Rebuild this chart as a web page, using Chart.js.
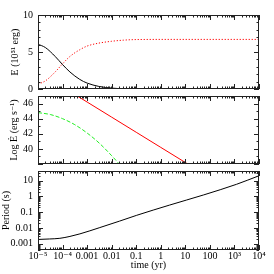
<!DOCTYPE html>
<html>
<head>
<meta charset="utf-8">
<script src="https://cdn.jsdelivr.net/npm/chart.js@4"></script>
<style>
  html, body { margin: 0; padding: 0; background: #fff; }
  #wrap { position: relative; width: 274px; height: 274px; overflow: hidden; }
  canvas { position: absolute; left: 0; }
</style>
</head>
<body>
<div id="wrap">
  <canvas id="energy" width="274" height="100" style="top:0px"></canvas>
  <canvas id="lum" width="274" height="90" style="top:85px"></canvas>
  <canvas id="period" width="274" height="114" style="top:160px"></canvas>
</div>
<script>
// time axis (yr)
const X_MIN = 1e-5, X_MAX = 1e4
const xTickValues = [1e-5, 1e-4, 1e-3, 1e-2, 1e-1, 1, 10, 100, 1e3, 1e4]
const xTickLabels = ['10\u207B\u2075', '10\u207B\u2074', '0.001', '0.01', '0.1', '1', '10', '100', '10\u00B3', '10\u2074']

// top panel: rotational energy (black) and deposited energy (red dotted)
const rotTime = [1e-5, 2e-5, 5e-5, 1e-4, 2e-4, 5e-4, 1e-3, 3e-3, 1e-2, 3e-2, 0.1, 1, 1e4]
const rotEnergy = [6.05, 5.6, 4.4, 3.3, 2.3, 1.3, 0.8, 0.35, 0.12, 0.04, 0.01, 0, 0]
const depTime = [1e-5, 2e-5, 5e-5, 1e-4, 2e-4, 5e-4, 1e-3, 3e-3, 1e-2, 3e-2, 0.1, 1, 1e4]
const depEnergy = [0.65, 1.1, 2.3, 3.4, 4.4, 5.3, 5.8, 6.2, 6.45, 6.6, 6.68, 6.7, 6.7]
const eTicks = [0, 5, 10]

// middle panel: log luminosity
const sdTime = [1e-4, 1e-3, 1e-2, 0.1, 1, 10, 100]
const sdLogL = [48.2, 46.2, 44.2, 42.2, 40.2, 38.2, 36.2]
const gTime = [1e-5, 3.16e-5, 1e-4, 3.16e-4, 1e-3, 3.16e-3, 1e-2, 1.78e-2, 2.5e-2]
const gLogL = [44.8, 44.55, 44.0, 43.2, 42.1, 40.75, 39.1, 38.2, 37.6]
const lTicks = [40, 42, 44, 46]

// bottom panel: spin period (s)
const pTime = [1e-5, 3e-5, 7.8e-5, 2e-4, 5.1e-4, 3.3e-3, 2.1e-2, 0.105, 2.3, 56, 1230, 1e4]
const period = [0.00186, 0.002, 0.0022, 0.0029, 0.0042, 0.0105, 0.027, 0.063, 0.28, 1.23, 5.8, 20]
const pTicks = [0.001, 0.01, 0.1, 1, 10]
const pTickLabels = ['0.001', '0.01', '0.1', '1', '10']

Chart.defaults.font.family = "'Liberation Serif', 'DejaVu Serif', serif"
Chart.defaults.font.size = 10
Chart.defaults.color = '#000'

const AXIS_W = 38

function points(xs, ys) {
    return xs.map((x, i) => ({ x: x, y: ys[i] }))
}

function tickMarks(scale, majorStep) {
    const out = []
    if (scale.type === 'logarithmic') {
        const lo = Math.floor(Math.log10(scale.min)), hi = Math.ceil(Math.log10(scale.max))
        for (let e = lo; e <= hi; e++) {
            for (let k = 1; k < 10; k++) {
                const v = k * Math.pow(10, e)
                if (v >= scale.min * 0.999 && v <= scale.max * 1.001) out.push({ v: v, major: k === 1 })
            }
        }
    } else {
        for (let v = Math.ceil(scale.min); v <= scale.max; v += 1) {
            out.push({ v: v, major: v % majorStep === 0 })
        }
    }
    return out
}

// pgplot-like frame with inward ticks on every side
const boxTicks = {
    id: 'boxTicks',
    afterDatasetsDraw(chart, args, opts) {
        const { ctx, chartArea: a } = chart
        const xs = chart.scales.x, ys = chart.scales.y
        ctx.save()
        ctx.strokeStyle = '#222'
        ctx.lineWidth = 1
        ctx.beginPath()
        tickMarks(xs, 1).forEach(t => {
            const p = Math.round(xs.getPixelForValue(t.v)) + 0.5
            const len = t.major ? 5 : 2.5
            ctx.moveTo(p, a.top); ctx.lineTo(p, a.top + len)
            ctx.moveTo(p, a.bottom); ctx.lineTo(p, a.bottom - len)
        })
        tickMarks(ys, opts.yMajor || 1).forEach(t => {
            const p = Math.round(ys.getPixelForValue(t.v)) + 0.5
            const len = t.major ? 5 : 2.5
            ctx.moveTo(a.left, p); ctx.lineTo(a.left + len, p)
            ctx.moveTo(a.right, p); ctx.lineTo(a.right - len, p)
        })
        ctx.stroke()
        ctx.strokeRect(Math.round(a.left) + 0.5, Math.round(a.top) + 0.5,
            Math.round(a.right - a.left) - 1, Math.round(a.bottom - a.top) - 1)
        ctx.restore()
    }
}

function xScale(showLabels) {
    return {
        type: 'logarithmic',
        min: X_MIN,
        max: X_MAX,
        display: showLabels,
        grid: { display: false, drawTicks: false },
        border: { display: false },
        afterBuildTicks: scale => { scale.ticks = xTickValues.map(v => ({ value: v })) },
        afterFit: scale => { scale.height = showLabels ? 24 : 0 },
        ticks: {
            autoSkip: false,
            maxRotation: 0,
            padding: 1,
            font: { size: 10, lineHeight: 1 },
            callback: (value, index) => xTickLabels[index]
        },
        title: {
            display: true,
            text: 'time (yr)',
            font: { size: 10, lineHeight: 1.2 },
            padding: { top: 0, bottom: 3 }
        }
    }
}

function yTitle(text, pad) {
    return {
        display: true,
        text: text,
        font: { size: 10, lineHeight: 1.2 },
        padding: { top: pad, bottom: 0 }
    }
}

function createPanel(canvas, datasets, yOpts, pad, showX, yMajor) {
    const config = {
        type: 'line',
        data: { datasets: datasets },
        options: {
            responsive: false,
            animation: false,
            events: [],
            layout: { padding: pad },
            plugins: {
                legend: { display: false },
                tooltip: { enabled: false },
                boxTicks: { yMajor: yMajor }
            },
            elements: { point: { radius: 0 } },
            scales: {
                x: xScale(showX),
                y: Object.assign({
                    grid: { display: false, drawTicks: false },
                    border: { display: false },
                    afterFit: scale => { scale.width = AXIS_W }
                }, yOpts)
            }
        },
        plugins: [boxTicks]
    }
    return new Chart(canvas, config)
}

createPanel(document.getElementById('energy'), [
    {
        data: points(rotTime, rotEnergy),
        borderColor: '#000',
        borderWidth: 1,
        cubicInterpolationMode: 'monotone'
    },
    {
        data: points(depTime, depEnergy),
        borderColor: '#ff0000',
        borderWidth: 1,
        borderDash: [1.2, 1.8],
        cubicInterpolationMode: 'monotone'
    }
], {
    type: 'linear',
    min: 0,
    max: 10,
    afterBuildTicks: scale => { scale.ticks = eTicks.map(v => ({ value: v })) },
    ticks: { padding: 5 },
    title: yTitle('E (10\u2075\u00B9 erg)', 9)
}, { top: 15, bottom: 9, left: 0, right: 15 }, false, 5)

createPanel(document.getElementById('lum'), [
    {
        data: points(sdTime, sdLogL),
        borderColor: '#ff0000',
        borderWidth: 1,
        tension: 0
    },
    {
        data: points(gTime, gLogL),
        borderColor: '#22ee22',
        borderWidth: 1,
        borderDash: [4, 2],
        cubicInterpolationMode: 'monotone'
    }
], {
    type: 'linear',
    min: 38,
    max: 47,
    afterBuildTicks: scale => { scale.ticks = lTicks.map(v => ({ value: v })) },
    ticks: { padding: 5 },
    title: yTitle('Log \u0116 (erg s\u207B\u00B9)', 8)
}, { top: 6, bottom: 7, left: 0, right: 15 }, false, 2)

createPanel(document.getElementById('period'), [
    {
        data: points(pTime, period),
        borderColor: '#000',
        borderWidth: 1,
        cubicInterpolationMode: 'monotone'
    }
], {
    type: 'logarithmic',
    min: 4e-4,
    max: 40,
    afterBuildTicks: scale => { scale.ticks = pTicks.map(v => ({ value: v })) },
    ticks: { padding: 5, callback: (value, index) => pTickLabels[index] },
    title: yTitle('Period (s)', 0)
}, { top: 8, bottom: 0, left: 0, right: 15 }, true, 1)
</script>
</body>
</html>
